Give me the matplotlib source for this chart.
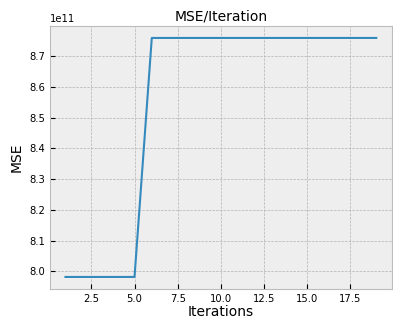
import matplotlib
matplotlib.use("Agg")
import matplotlib.pyplot as plt

plt.style.use("bmh")

iterations = list(range(1, 20))
mse = [7.982e11] * 5 + [8.759e11] * 14

fig, ax = plt.subplots(figsize=(3.93, 3.21), dpi=100)
ax.plot(iterations, mse, color="#348ABD", linewidth=1.5)
ax.set_title("MSE/Iteration", fontsize=10, pad=4)
ax.set_xlabel("Iterations", fontsize=10, labelpad=1)
ax.set_ylabel("MSE", fontsize=10)
ax.tick_params(labelsize=7.2)
ax.yaxis.get_offset_text().set_fontsize(7.2)
fig.subplots_adjust(left=0.127, right=0.997, top=0.919, bottom=0.1)
fig.savefig("out.png", dpi=100)
